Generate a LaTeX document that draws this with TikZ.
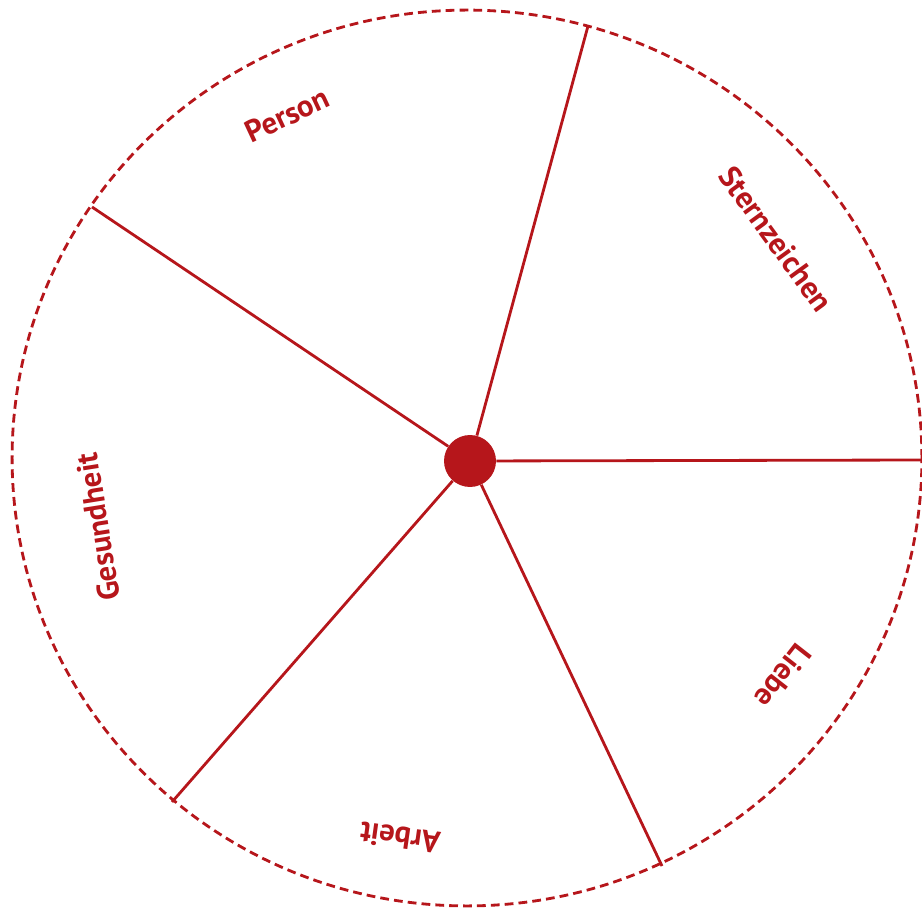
\documentclass[tikz,border=0pt]{standalone}
\usepackage{fontspec}
\setmainfont{PT Sans}
\usepackage{tikz}
\definecolor{wheelred}{RGB}{182,22,27}

\begin{document}
\begin{tikzpicture}[
    x=0.02cm, y=-0.02cm,
    hub/.style={circle, fill=wheelred, draw=none, minimum size=1.04cm, inner sep=0pt},
    spoke/.style={wheelred, line width=1.6pt},
    rim/.style={wheelred, line width=1.6pt, dash pattern=on 5pt off 2.9pt},
    sector/.style={wheelred, font=\fontsize{17.5}{17.5}\selectfont\bfseries, inner sep=0pt},
]
\useasboundingbox (0,0) rectangle (922,908);

% === Rand ===
\coordinate (M) at (467,458);
\draw[rim] (M) ellipse [x radius=9.1cm, y radius=8.96cm];

% === Speichen ===
\coordinate (S1) at (588,26);
\coordinate (S2) at (922,460);
\coordinate (S3) at (662,866);
\coordinate (S4) at (172,802);
\coordinate (S5) at (92,207);

\node[hub] (hub) at (470,461) {};
\foreach \s in {S1,S2,S3,S4,S5} {
    \draw[spoke] (hub) -- (\s);
}

% === Beschriftungen ===
\node[sector, rotate=25]   (person) at (287,115) {Person};
\node[sector, rotate=-54]  (stern)  at (776,239) {Sternzeichen};
\node[sector, rotate=-128] (liebe)  at (783,676) {Liebe};
\node[sector, rotate=172]  (arbeit) at (400,838) {Arbeit};
\node[sector, rotate=99]   (gesund) at (98,527)  {Gesundheit};

\end{tikzpicture}
\end{document}
